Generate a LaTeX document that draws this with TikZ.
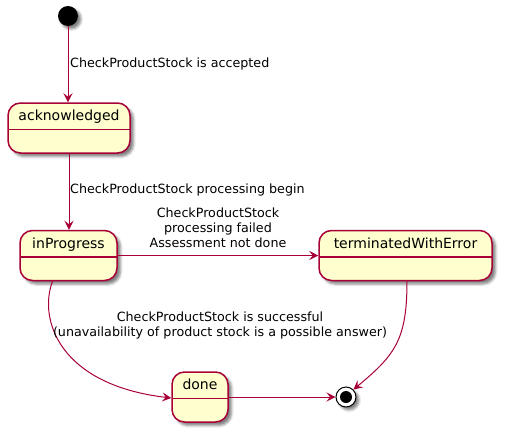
\documentclass[tikz,border=0pt]{standalone}
\usepackage{fontspec}
\setmainfont{DejaVu Sans}
\usetikzlibrary{arrows.meta,shadows.blur}
\definecolor{pborder}{HTML}{A80036}
\definecolor{pfill}{HTML}{FEFECE}
\tikzset{
 stbox/.style={rectangle, draw=pborder, fill=pfill, line width=1.5pt, rounded corners=12.5pt,
   inner xsep=0pt, inner ysep=6.5pt, text height=11pt, text depth=26pt,
   font=\fontsize{14}{16}\selectfont,
   blur shadow={shadow xshift=3.5pt, shadow yshift=-3.5pt, shadow blur radius=2.5pt, shadow opacity=50},
   path picture={\draw[pborder, line width=1.5pt] ([yshift=-26.5pt]path picture bounding box.north west) -- ([yshift=-26.5pt]path picture bounding box.north east);}},
 startst/.style={circle, fill=black, minimum size=20pt, inner sep=0pt,
   blur shadow={shadow xshift=3pt, shadow yshift=-3pt, shadow blur radius=2.5pt, shadow opacity=50}},
 endst/.style={circle, draw=black, line width=1pt, fill=white, minimum size=20pt, inner sep=0pt,
   blur shadow={shadow xshift=3pt, shadow yshift=-3pt, shadow blur radius=2.5pt, shadow opacity=50},
   path picture={\fill[black] (path picture bounding box.center) circle (6pt);}},
 trans/.style={draw=pborder, line width=1pt, -{Stealth[length=9pt, width=9pt, inset=3.5pt]}},
 lbl/.style={font=\fontsize{12.7}{15}\selectfont, align=center, inner sep=0pt},
}
\begin{document}
\begin{tikzpicture}[x=1pt,y=-1pt]
\useasboundingbox (0,0) rectangle (509,440);
\node[startst] (init) at (68,16) {};
\node[stbox, minimum width=122pt] (ack) at (69,128) {acknowledged};
\node[stbox, minimum width=97pt] (inp) at (68.5,255.5) {inProgress};
\node[stbox, minimum width=173pt] (term) at (405.5,255.5) {terminatedWithError};
\node[stbox, minimum width=56pt] (done) at (200,397) {done};
\node[endst] (fin) at (346,397) {};

\draw[trans] (init) -- (init |- ack.north);
\draw[trans] (ack) -- (ack |- inp.north);
\draw[trans] (inp.east) -- (term.west);
\draw[trans] ([xshift=-16pt]inp.south) .. controls (38,320) and (60,385) .. ([yshift=-1pt]done.west);
\draw[trans] ([xshift=1.5pt]term.south) .. controls (407,340) and (395,355) .. (fin.north east);
\draw[trans] (done.east) -- (fin.west);

\node[lbl, anchor=west] (l1) at (70,64) {CheckProductStock is accepted};
\node[lbl, anchor=west] (l2) at (70,190) {CheckProductStock processing begin};
\node[lbl] (l3) at (218,228) {CheckProductStock\\processing failed\\Assessment not done};
\node[lbl] (l4) at (220,325.5) {CheckProductStock is successful\\(unavailability of product stock is a possible answer)};
\end{tikzpicture}
\end{document}
